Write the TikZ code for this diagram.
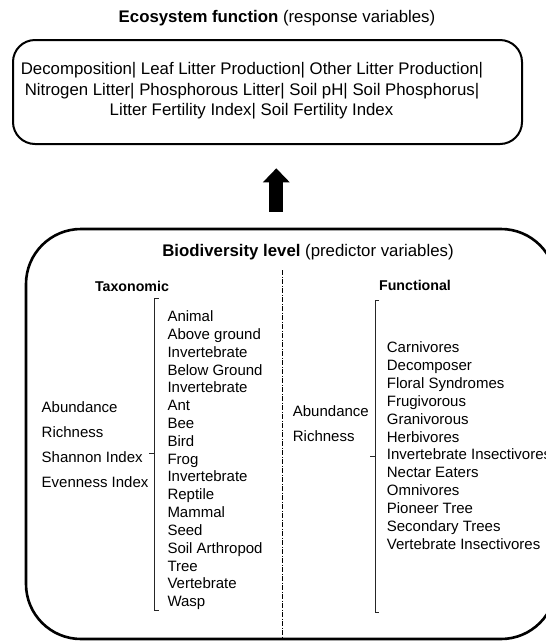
\documentclass[tikz,border=0pt]{standalone}
\usepackage{fontspec}
\setmainfont{Liberation Sans}
\usetikzlibrary{arrows.meta,positioning}
\tikzset{>=latex}
\newcommand{\fsz}[2]{\fontsize{#1}{#2}\selectfont}

\begin{document}
\begin{tikzpicture}[x=1pt,y=-1pt,
		heading/.style={font=\fsz{16.8}{20}, inner sep=0pt, anchor=base},
		subhead/.style={font=\fsz{14.2}{16}\bfseries, inner sep=0pt, anchor=base},
		entry/.style={font=\fsz{15}{18}, inner sep=0pt, anchor=base west},
		bigbox/.style={draw, rounded corners=#1, inner sep=0pt},
		brace/.style={draw=black!85, line width=0.8pt}]
		\useasboundingbox (0,0) rectangle (546,641);

		% response variables
		\node[heading] (ecotitle) at (277,22.7) {\textbf{Ecosystem function} (response variables)};
		\node[bigbox=22pt, line width=2pt, minimum width=509pt, minimum height=104pt] (ecobox) at (267.5,92) {};
		\node[heading, font=\fsz{16.8}{21}] (eco1) at (252,74) {Decomposition| Leaf Litter Production| Other Litter Production|};
		\node[heading, font=\fsz{16.8}{21}] (eco2) at (252,95) {Nitrogen Litter| Phosphorous Litter| Soil pH| Soil Phosphorus|};
		\node[heading, font=\fsz{16.8}{21}] (eco3) at (251.5,115.7) {Litter Fertility Index| Soil Fertility Index};

		\coordinate (arrowfoot) at (276.3,211.7);
		\coordinate (arrowtip) at (276.3,168.3);
		\draw[line width=14pt, -{Triangle[width=26pt,length=14pt]}] (arrowfoot) -- (arrowtip);

		% predictor variables
		\node[bigbox=55pt, line width=2.6pt, minimum width=530pt, minimum height=410pt] (biobox) at (291,434) {};
		\node[heading] (biotitle) at (308,256.7) {\textbf{Biodiversity level} (predictor variables)};
		\coordinate (divtop) at (282.7,270);
		\draw[dash pattern=on 5pt off 1.5pt on 1pt off 1.5pt, line width=0.6pt] (divtop) -- (divtop |- biobox.south);

		\node[subhead] (taxhead) at (132,291.7) {Taxonomic};
		\node[subhead] (funchead) at (415,290) {Functional};

		\foreach \measure [count=\i] in {Abundance, Richness, Shannon Index, Evenness Index}
			\node[entry] (taxm\i) at (41.5,{412.5+25*(\i-1)}) {\measure};
		\foreach \taxon [count=\i] in {Animal, Above ground, Invertebrate, Below Ground, Invertebrate, Ant, Bee, Bird, Frog, Invertebrate, Reptile, Mammal, Seed, Soil Arthropod, Tree, Vertebrate, Wasp}
			\node[entry] (tax\i) at (167.3,{321.7+17.81*(\i-1)}) {\taxon};
		\draw[brace] (158.7,298.3) -- (154,298.3) -- (154,610) -- (158.7,610)
			(154,453.3) -- (148.5,453.3);

		\node[entry] (funcm1) at (292.7,416) {Abundance};
		\node[entry] (funcm2) at (292.7,441.5) {Richness};
		\foreach \guild [count=\i] in {Carnivores, Decomposer, Floral Syndromes, Frugivorous, Granivorous, Herbivores, Invertebrate Insectivores, Nectar Eaters, Omnivores, Pioneer Tree, Secondary Trees, Vertebrate Insectivores}
			\node[entry] (func\i) at (386.7,{352.7+17.87*(\i-1)}) {\guild};
		\draw[brace] (379,300) -- (375,300) -- (375,612.7) -- (379,612.7)
			(375,456) -- (369.5,456);
	\end{tikzpicture}
\end{document}
